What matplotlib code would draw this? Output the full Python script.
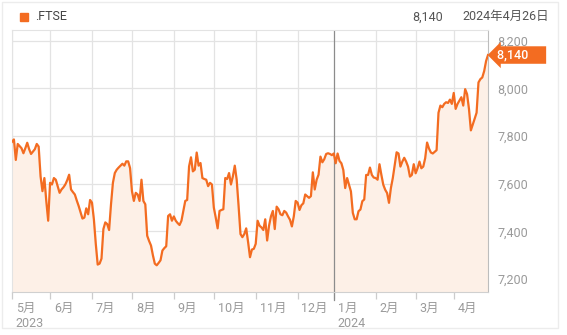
import matplotlib
matplotlib.use('Agg')
import matplotlib.pyplot as plt
import numpy as np

# FTSE 100 終値 (取引日ごと、月別)
months = ['5月', '6月', '7月', '8月', '9月', '10月', '11月', '12月', '1月', '2月', '3月', '4月']
years = {0: '2023', 8: '2024'}
may = [7776, 7786, 7700, 7767, 7758, 7749, 7728, 7749, 7772, 7745, 7725, 7735, 7745, 7767, 7756, 7631, 7569, 7624, 7528, 7445]
jun = [7604, 7597, 7624, 7617, 7590, 7562, 7576, 7585, 7597, 7615, 7638, 7576, 7565, 7555, 7530, 7507, 7480, 7454, 7458, 7497, 7472, 7532]
jul = [7521, 7451, 7348, 7261, 7265, 7286, 7410, 7438, 7431, 7406, 7514, 7604, 7645, 7659, 7668, 7676, 7684, 7676, 7694, 7694, 7666]
aug = [7569, 7528, 7562, 7555, 7528, 7617, 7528, 7514, 7382, 7360, 7341, 7300, 7265, 7258, 7268, 7279, 7320, 7330, 7338, 7465, 7472, 7445]
sep = [7463, 7445, 7435, 7427, 7445, 7486, 7528, 7532, 7673, 7711, 7652, 7659, 7731, 7676, 7687, 7624, 7620, 7617, 7590, 7604, 7597]
oct_ = [7500, 7458, 7413, 7486, 7490, 7493, 7624, 7620, 7645, 7597, 7631, 7676, 7617, 7507, 7389, 7376, 7389, 7413, 7355, 7292, 7324, 7327]
nov = [7348, 7445, 7424, 7417, 7406, 7451, 7362, 7424, 7463, 7486, 7410, 7504, 7493, 7472, 7468, 7486, 7479, 7463, 7449, 7421, 7463, 7528]
dec = [7521, 7490, 7510, 7518, 7555, 7548, 7541, 7548, 7648, 7576, 7617, 7638, 7714, 7690, 7703, 7725, 7728, 7725, 7720]
jan = [7727, 7686, 7727, 7696, 7686, 7658, 7582, 7624, 7596, 7568, 7478, 7451, 7451, 7485, 7492, 7527, 7534, 7637, 7637, 7668, 7637, 7626]
feb = [7624, 7617, 7682, 7637, 7596, 7575, 7561, 7520, 7582, 7624, 7679, 7732, 7727, 7672, 7693, 7709, 7693, 7672, 7630, 7637, 7682]
mar = [7644, 7665, 7693, 7665, 7672, 7707, 7773, 7748, 7731, 7727, 7734, 7741, 7898, 7928, 7921, 7935, 7942, 7939, 7953, 7935]
apr = [7981, 7914, 7935, 7949, 7963, 7928, 7997, 7976, 7914, 7824, 7848, 7873, 7898, 8025, 8039, 8046, 8073, 8115, 8140]
yticks = [7200, 7400, 7600, 7800, 8000, 8200]

segments = [may, jun, jul, aug, sep, oct_, nov, dec, jan, feb, mar, apr]
closes = np.array(sum(segments, []))
x = np.arange(len(closes))
month_start = np.cumsum([0] + [len(s) for s in segments[:-1]])
last = closes[-1]

orange = '#f36c21'
grey_txt = '#9a9a9a'
grid_c = '#e3e3e3'
plt.rcParams['font.family'] = ['Roboto', 'Noto Sans CJK JP', 'DejaVu Sans']
fs = 9

fig = plt.figure(figsize=(5.67, 3.35), dpi=100)
W, H = 567, 335

# card border
fig.patches.append(plt.Rectangle((2 / W, 1 - 328 / H), 556 / W, 326 / H, transform=fig.transFigure,
                                 fill=False, edgecolor='#ececec', linewidth=1))

ax = fig.add_axes([12 / W, 1 - 292 / H, 476 / W, 262 / H])
ax.set_xlim(0, len(closes) - 1)
ax.set_ylim(7146, 8245)

ax.fill_between(x, closes, 7146, color='#fdf0e7', zorder=1)
ax.plot(x, closes, color=orange, linewidth=1.6, zorder=3)

for y in yticks:
    ax.axhline(y, color=grid_c, linewidth=0.9, zorder=0)
for i, m in enumerate(month_start):
    ax.axvline(m, color='#8c8c8c' if i == 8 else grid_c, linewidth=0.9, zorder=0 if i != 8 else 2)

for s in ['top', 'left']:
    ax.spines[s].set_color(grid_c)
ax.spines['right'].set_color('#bdbdbd')
ax.spines['bottom'].set_color('#d0d0d0')

ax.set_xticks(month_start)
ax.set_xticklabels([])
ax.tick_params(axis='x', length=5, color='#cccccc', width=0.9)
ax.yaxis.tick_right()
ax.set_yticks(yticks)
ax.set_yticklabels([f'{v:,}' for v in yticks], fontsize=fs, color=grey_txt)
ax.tick_params(axis='y', length=0, pad=7)

# longer tick for the year boundary
ax.plot([month_start[8]] * 2, [0, -0.03], transform=ax.get_xaxis_transform(), clip_on=False,
        color='#8c8c8c', linewidth=0.9)

trans = ax.get_xaxis_transform()
for i, (m, lab) in enumerate(zip(month_start, months)):
    ax.text(m + 2, -0.037, lab, transform=trans, ha='left', va='top', fontsize=fs, color=grey_txt)
    if i in years:
        ax.text(m + 2, -0.097, years[i], transform=trans, ha='left', va='top', fontsize=fs, color=grey_txt)

# current value tag
ax.annotate(f'{last:,}     ', xy=(1.0, last), xycoords=('axes fraction', 'data'),
            xytext=(6.5, 0), textcoords='offset points', ha='left', va='center',
            fontsize=fs, color='white', fontweight='medium',
            bbox=dict(boxstyle='larrow,pad=0.18', fc=orange, ec='none'))

# header
fig.patches.append(plt.Rectangle((20 / W, 1 - 21 / H), 8 / W, 8 / H, transform=fig.transFigure,
                                 color=orange))
fig.text(35 / W, 1 - 17 / H, '.FTSE', fontsize=fs, color='#444444', va='center')
fig.text(443 / W, 1 - 17 / H, f'{last:,}', fontsize=fs, color='#555555', va='center', ha='right')
fig.text(549 / W, 1 - 16 / H, '2024年4月26日', fontsize=fs, color='#555555', va='center', ha='right')

fig.savefig('out.png', dpi=100)
